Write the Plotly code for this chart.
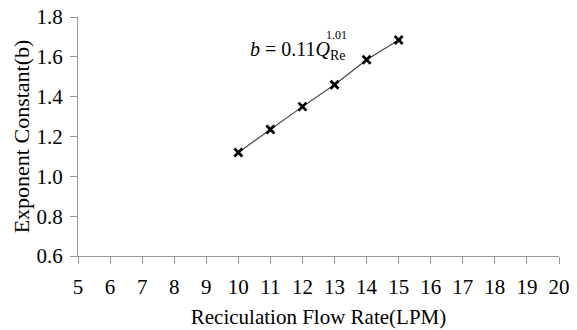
import plotly.graph_objects as go

flow_rate = [10, 11, 12, 13, 14, 15]
exponent_b = [1.12, 1.235, 1.35, 1.46, 1.585, 1.685]
x_ticks = list(range(5, 21))
y_ticks = [0.6, 0.8, 1.0, 1.2, 1.4, 1.6, 1.8]
y_tick_text = [f"{v:.1f}" for v in y_ticks]

FONT = "Liberation Serif"

fig = go.Figure()
fig.add_trace(go.Scatter(
    x=flow_rate, y=exponent_b, mode="lines+markers",
    line=dict(color="#444444", width=1.2),
    marker=dict(symbol="x-thin-open", size=8, color="black",
                line=dict(color="black", width=2.8)),
    showlegend=False,
))

fig.add_annotation(
    x=10.3, y=1.634, xref="x", yref="y", xanchor="left", yanchor="middle",
    text="<i>b</i> = 0.11<i>Q</i><sub>Re</sub>",
    showarrow=False, font=dict(family=FONT, size=20, color="black"),
)
fig.add_annotation(
    x=12.68, y=1.712, xref="x", yref="y", xanchor="left", yanchor="middle",
    text="1.01",
    showarrow=False, font=dict(family=FONT, size=12, color="black"),
)

axis_common = dict(
    showgrid=False, zeroline=False, showline=True, linecolor="#999999", linewidth=1,
    ticks="outside", tickcolor="#999999", ticklen=7, tickwidth=1,
    tickfont=dict(family=FONT, size=21, color="black"),
    automargin=False,
)

fig.update_xaxes(
    range=[5, 20], tickvals=x_ticks, ticktext=[str(v) for v in x_ticks],
    ticklabelstandoff=5,
    title=dict(text="Reciculation Flow Rate(LPM)", font=dict(family=FONT, size=21, color="black"), standoff=11),
    **axis_common,
)
fig.update_yaxes(
    range=[0.6, 1.8], tickvals=y_ticks, ticktext=y_tick_text,
    ticklabelstandoff=3,
    title=dict(text="Exponent Constant(b)", font=dict(family=FONT, size=22, color="black"), standoff=0),
    **axis_common,
)

fig.update_layout(
    width=577, height=330,
    margin=dict(l=78, r=18, t=17, b=74),
    paper_bgcolor="white", plot_bgcolor="white",
)

fig.write_html("out.html")
